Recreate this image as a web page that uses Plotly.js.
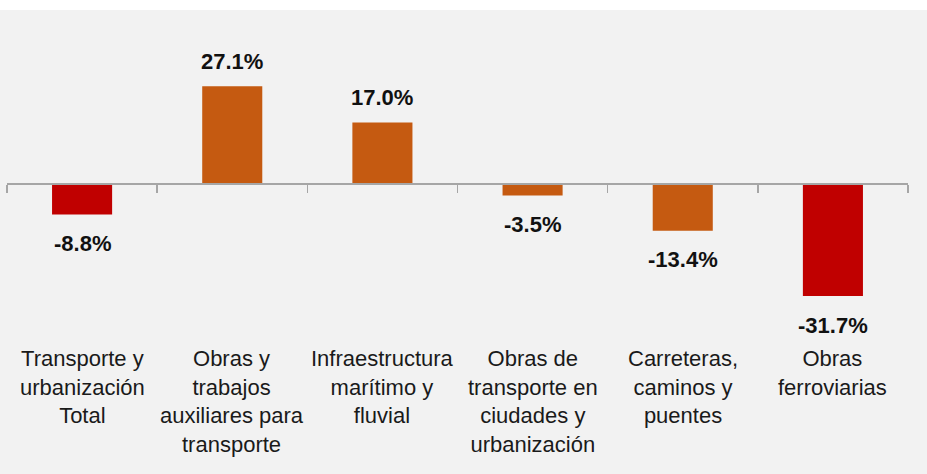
<!DOCTYPE html>
<html>
<head>
<meta charset="utf-8">
<script src="https://cdn.plot.ly/plotly-3.0.1.min.js"></script>
<style>
  html, body { margin: 0; padding: 0; background: #ffffff; }
  #chart { position: absolute; left: 0; top: 10px; width: 927px; height: 464px; }
</style>
</head>
<body>
<div id="chart"></div>
<script>
"use strict";

// DATA
const categories = [
	"Transporte y<br>urbanización<br>Total",
	"Obras y<br>trabajos<br>auxiliares para<br>transporte",
	"Infraestructura<br>marítimo y<br>fluvial",
	"Obras de<br>transporte en<br>ciudades y<br>urbanización",
	"Carreteras,<br>caminos y<br>puentes",
	"Obras<br>ferroviarias"
];
const values = [-8.8, 27.1, 17.0, -3.5, -13.4, -31.7];
const valueLabels = ["-8.8%", "27.1%", "17.0%", "-3.5%", "-13.4%", "-31.7%"];
const barColors = ["#C00000", "#C55A11", "#C55A11", "#C55A11", "#C55A11", "#C00000"];

// LAYOUT HELPERS
const Y_MIN = -41.2, Y_MAX = 42.9;
const zeroPos = (0 - Y_MIN) / (Y_MAX - Y_MIN);
const xs = values.map((v, i) => i);
const bounds = [];
for(let i = 0; i <= categories.length; i++){
	bounds.push(i - 0.5);
}

const trace = {
	type: 'bar',
	x: xs,
	y: values,
	width: 0.4,
	marker: {color: barColors, line: {width: 0}},
	hoverinfo: 'none'
};

const annotations = [];
values.forEach((v, i) => {
	annotations.push({
		x: i, y: v, xref: 'x', yref: 'y',
		text: "<b>" + valueLabels[i] + "</b>",
		showarrow: false,
		yanchor: 'middle',
		yshift: (v >= 0 ? 25 : -29),
		font: {family: "Liberation Sans, Arial, sans-serif", size: 22, color: "#111111"}
	});
	annotations.push({
		x: i, y: -0.047, xref: 'x', yref: 'paper',
		text: categories[i],
		showarrow: false,
		yanchor: 'top',
		align: 'center',
		font: {family: "Liberation Sans, Arial, sans-serif", size: 22, color: "#1a1a1a"}
	});
});

const layout = {
	width: 927,
	height: 464,
	margin: {l: 7, r: 19, t: 20, b: 144},
	paper_bgcolor: '#F2F2F2',
	plot_bgcolor: '#F2F2F2',
	showlegend: false,
	hovermode: false,
	xaxis: {
		range: [-0.5, categories.length - 0.5],
		anchor: 'free',
		position: zeroPos,
		showline: true,
		linecolor: '#A6A6A6',
		linewidth: 1.5,
		ticks: 'outside',
		tickvals: bounds,
		ticklen: 8,
		tickwidth: 1.5,
		tickcolor: '#A6A6A6',
		showticklabels: false,
		showgrid: false,
		zeroline: false,
		fixedrange: true
	},
	yaxis: {
		range: [Y_MIN, Y_MAX],
		visible: false,
		showgrid: false,
		zeroline: false,
		fixedrange: true
	},
	annotations: annotations
};

Plotly.newPlot('chart', [trace], layout, {displayModeBar: false, staticPlot: true});
</script>
</body>
</html>
